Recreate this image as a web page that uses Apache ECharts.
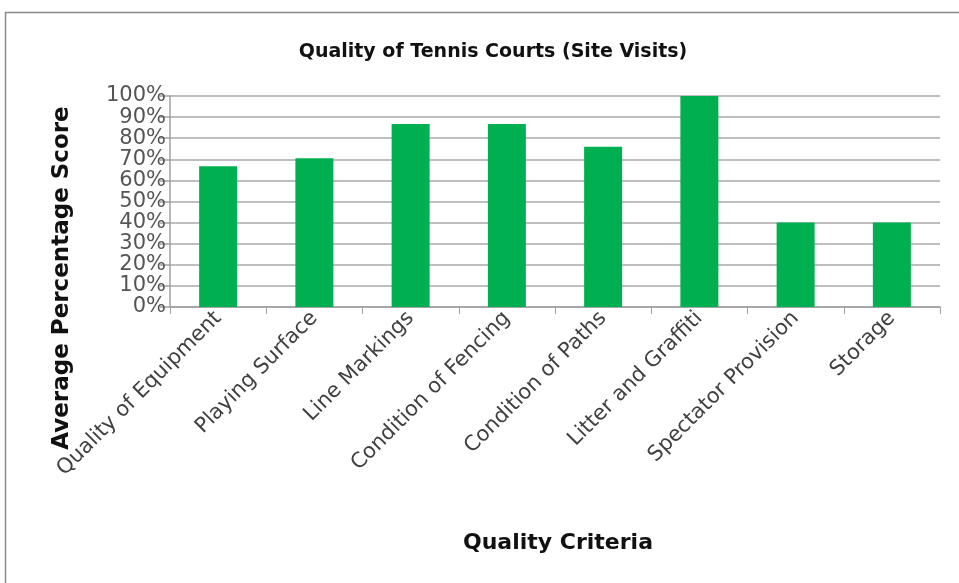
<!DOCTYPE html>
<html><head><meta charset="utf-8">
<script src="https://cdn.jsdelivr.net/npm/echarts@6/dist/echarts.min.js"></script>
<style>html,body{margin:0;padding:0;background:#fff}#c{width:959px;height:583px}</style>
</head><body><div id="c"></div>
<script>
var categories = ["Quality of Equipment","Playing Surface","Line Markings","Condition of Fencing","Condition of Paths","Litter and Graffiti","Spectator Provision","Storage"];
var values = [0.667, 0.705, 0.867, 0.867, 0.76, 1.0, 0.40, 0.40];
var titleText = "Quality of Tennis Courts (Site Visits)";
var yTitle = "Average Percentage Score";
var xTitle = "Quality Criteria";
var font = "DejaVu Sans";
var chart = echarts.init(document.getElementById('c'));
chart.setOption({
  animation:false,
  backgroundColor:'#fff',
  title:{text:titleText,left:488,top:38,textAlign:'center',textStyle:{fontFamily:font,fontSize:19,fontWeight:'bold',color:'#111'}},
  graphic:[
    {type:'rect',shape:{x:5.5,y:12.5,width:960,height:580},style:{fill:'none',stroke:'#8a8a8a',lineWidth:1.5}},
    {type:'text',x:62,y:278,rotation:Math.PI/2,style:{text:yTitle,fontFamily:font,fontSize:23,fontWeight:'bold',fill:'#111',align:'center',verticalAlign:'middle'}},
    {type:'text',x:558,y:543,style:{text:xTitle,fontFamily:font,fontSize:22,fontWeight:'bold',fill:'#111',align:'center',verticalAlign:'middle'}}
  ],
  grid:{left:170,right:19,top:96,bottom:276},
  xAxis:{type:'category',data:categories,
    axisLine:{lineStyle:{color:'#a0a0a0',width:1.5}},
    axisTick:{show:true,length:7,lineStyle:{color:'#a0a0a0'}},
    axisLabel:{rotate:45,interval:0,margin:8,padding:[20,0,0,0],fontFamily:font,fontSize:21,color:'#404040'}},
  yAxis:{type:'value',min:0,max:1,interval:0.1,
    axisLine:{show:true,lineStyle:{color:'#a0a0a0',width:1.5}},
    axisTick:{show:true,length:10,lineStyle:{color:'#a0a0a0',width:1.5}},
    splitLine:{lineStyle:{color:'#a8a8a8',width:1.5}},
    axisLabel:{margin:4,fontFamily:font,fontSize:21,color:'#555',formatter:function(v){return Math.round(v*100)+'%';}}},
  series:[{type:'bar',data:values,barWidth:38,itemStyle:{color:'#00B050'}}]
});
</script></body></html>
